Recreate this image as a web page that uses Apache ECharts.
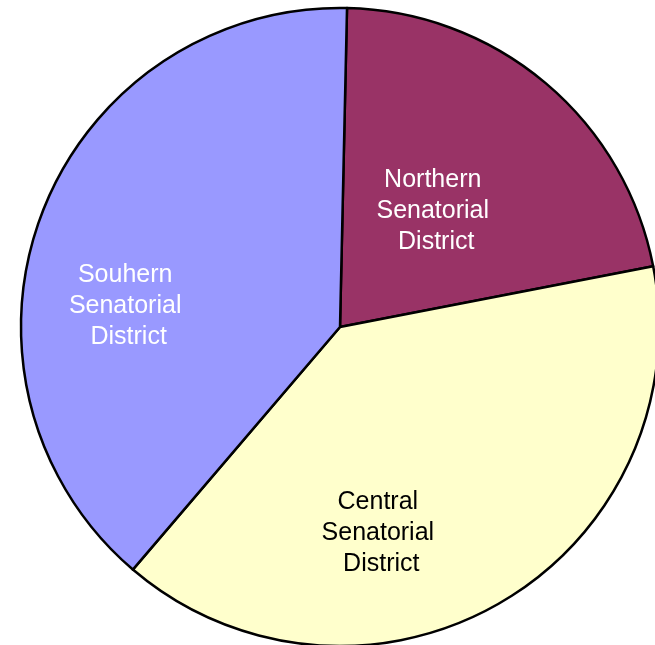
<!DOCTYPE html>
<html>
<head>
<meta charset="utf-8">
<script src="https://cdn.jsdelivr.net/npm/echarts@6/dist/echarts.min.js"></script>
<style>
    html, body { margin: 0; padding: 0; background: #fff; }
    #chart { width: 655px; height: 645px; }
</style>
</head>
<body>
<div id="chart"></div>
<script>
// 各区占比
let districtNames = ['Northern\nSenatorial\n District', 'Central\nSenatorial\n District', 'Souhern\nSenatorial\n District'];
let districtValues = [21.6, 39.3, 39.1];
let sliceColors = ['#993366', '#FFFFCC', '#9999FF'];
let labelColors = ['#ffffff', '#000000', '#ffffff'];
// 标签相对默认 inside 位置的偏移
let labelShift = [[-12, 8], [-44, 66], [-63, 37]];

$ready();

function $ready() {
    let myChart = echarts.init(document.getElementById('chart'));

    let pieData = districtNames.map(function (name, i) {
        return {
            name: name,
            value: districtValues[i],
            itemStyle: { color: sliceColors[i] },
            label: { color: labelColors[i] }
        };
    });

    let option = {
        backgroundColor: '#ffffff',
        animation: false,
        series: [
            {
                type: 'pie',
                center: [340, 327],
                radius: 319,
                startAngle: 88.74,
                clockwise: true,
                avoidLabelOverlap: false,
                data: pieData,
                itemStyle: {
                    borderColor: '#000000',
                    borderWidth: 2.5
                },
                label: {
                    show: true,
                    position: 'inside',
                    formatter: '{b}',
                    fontFamily: 'Liberation Sans, Arial, sans-serif',
                    fontSize: 25,
                    lineHeight: 31,
                    align: 'center'
                },
                labelLine: { show: false },
                labelLayout: function (params) {
                    let s = labelShift[params.dataIndex];
                    return { dx: s[0], dy: s[1] };
                },
                emphasis: { disabled: true }
            }
        ]
    };

    myChart.setOption(option);
}
</script>
</body>
</html>
